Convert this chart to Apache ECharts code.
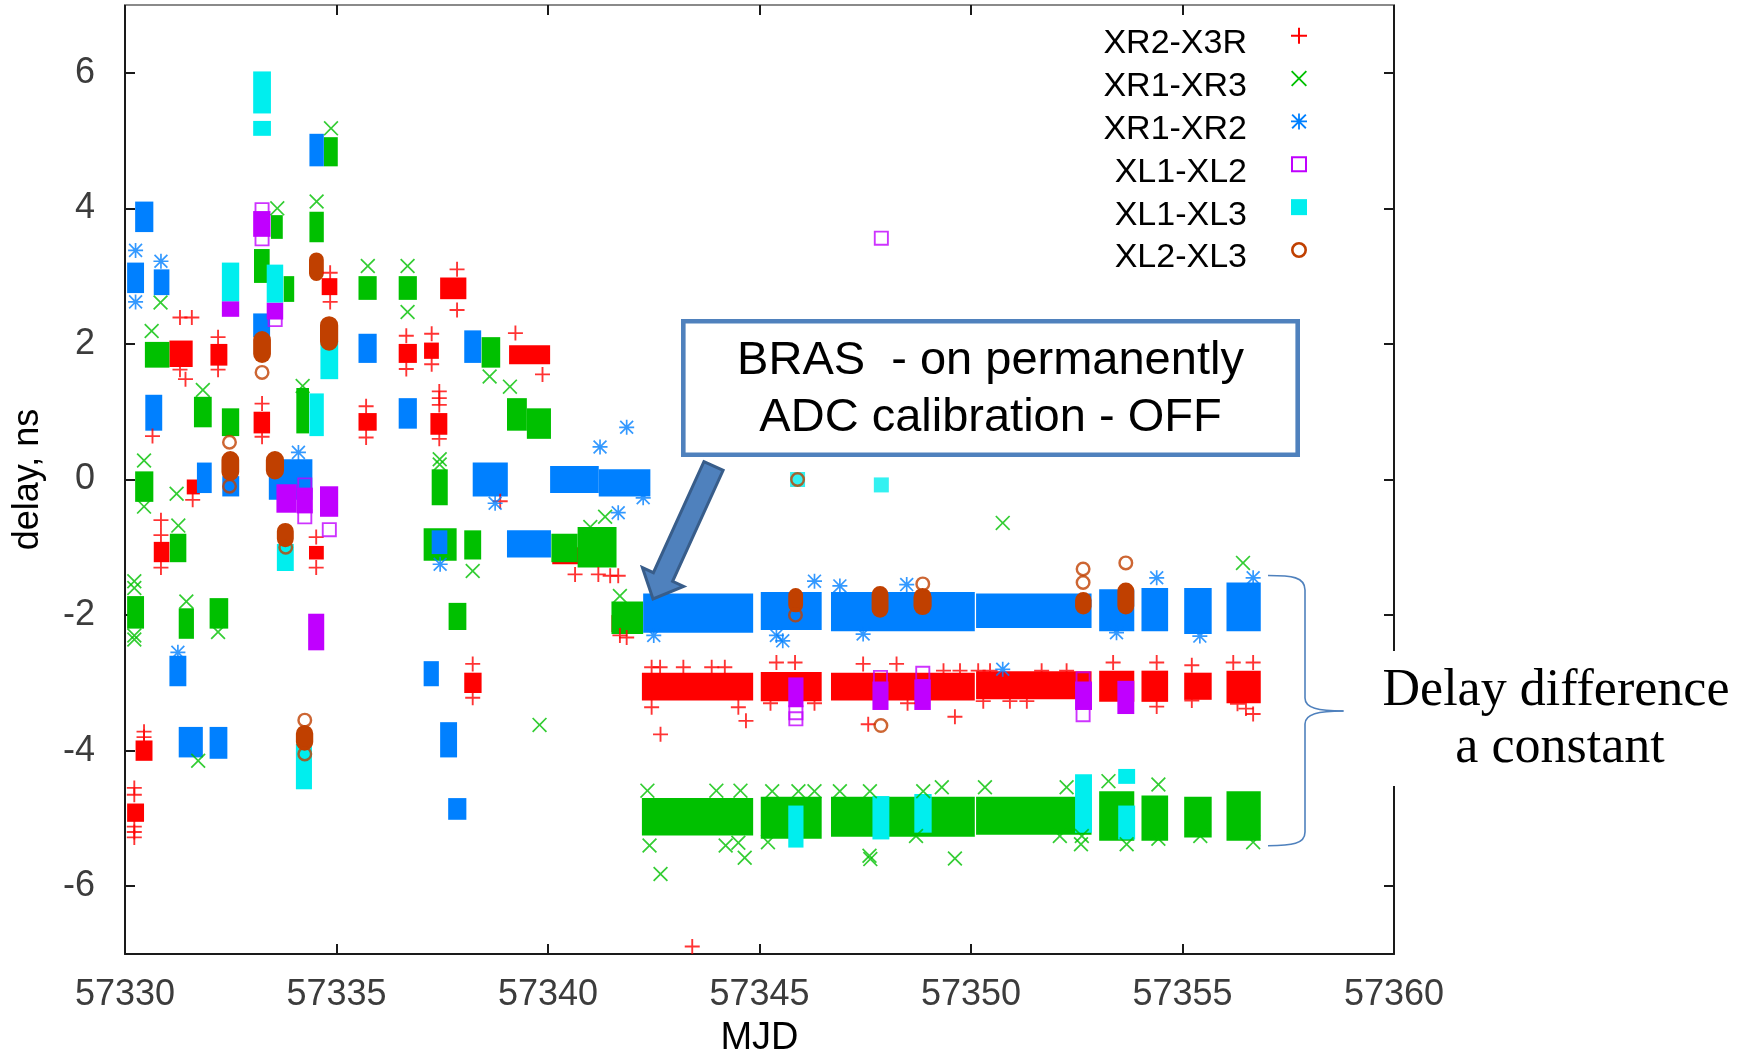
<!DOCTYPE html>
<html><head><meta charset="utf-8">
<script src="https://cdn.jsdelivr.net/npm/echarts@6/dist/echarts.min.js"></script>
<style>html,body{margin:0;padding:0;background:#fff}#c{width:1742px;height:1056px}</style>
</head><body><div id="c"></div>
<script>
// ---------------- DATA ----------------
const seriesNames = ['XR2-X3R', 'XR1-XR3', 'XR1-XR2', 'XL1-XL2', 'XL1-XL3', 'XL2-XL3'];
const yTickValues = [-6, -4, -2, 0, 2, 4, 6];
const xRange = [57330, 57360];
const yRange = [-7, 7];

// dense clusters of overlapping markers: [mjdStart, mjdEnd, delayLow, delayHigh]
const redBlocks = [
  [57330.05, 57330.45, -5.05, -4.78], [57330.25, 57330.65, -4.15, -3.85], [57330.68, 57331.05, -1.22, -0.92],
  [57331.05, 57331.6, 1.66, 2.05], [57331.46, 57331.77, -0.22, 0.0], [57332.02, 57332.42, 1.68, 2.0],
  [57333.04, 57333.43, 0.68, 1.0], [57334.35, 57334.7, -1.18, -0.98], [57334.65, 57335.02, 2.72, 2.97],
  [57335.52, 57335.95, 0.72, 0.98], [57336.47, 57336.9, 1.72, 2.0], [57337.07, 57337.42, 1.78, 2.02],
  [57337.22, 57337.62, 0.66, 0.98], [57337.45, 57338.07, 2.66, 2.98], [57338.02, 57338.43, -3.15, -2.85],
  [57339.08, 57340.05, 1.7, 1.98], [57340.1, 57341.6, -1.25, -1.0], [57341.5, 57342.1, -2.25, -2.0],
  [57342.22, 57344.85, -3.26, -2.85], [57345.03, 57346.47, -3.27, -2.84], [57346.69, 57350.09, -3.26, -2.85],
  [57350.12, 57352.85, -3.24, -2.83], [57353.03, 57353.86, -3.28, -2.82], [57354.03, 57354.66, -3.28, -2.82],
  [57355.04, 57355.69, -3.25, -2.85], [57356.04, 57356.85, -3.3, -2.82]
];
const redPoints = [
  [57330.22, -4.55], [57330.22, -4.65], [57330.22, -5.12], [57330.22, -5.2], [57330.22, -5.28],
  [57330.45, -3.72], [57330.45, -3.8], [57330.45, -3.92], [57330.85, -0.6], [57330.85, -0.82], [57330.85, -1.3],
  [57330.65, 0.64], [57331.3, 2.39], [57331.58, 2.39], [57331.43, 1.48], [57331.3, 1.62], [57331.6, -0.3],
  [57332.2, 2.1], [57332.2, 1.62], [57333.24, 1.12], [57333.24, 0.63], [57334.52, -0.85], [57334.52, -1.3],
  [57334.85, 3.05], [57334.85, 2.62], [57335.7, 1.08], [57335.7, 0.62], [57336.65, 2.12], [57336.65, 1.63],
  [57337.25, 2.15], [57337.25, 1.7], [57337.43, 1.3], [57337.43, 1.2], [57337.43, 1.1], [57337.43, 0.6],
  [57337.85, 3.1], [57337.85, 2.5], [57338.22, -2.72], [57338.22, -3.22], [57338.87, -0.32],
  [57339.23, 2.16], [57339.87, 1.55], [57340.64, -1.4], [57341.19, -1.4], [57341.47, -1.42], [57341.66, -1.42],
  [57341.86, -2.33], [57341.7, -2.3], [57342.45, -2.77], [57342.65, -2.77], [57343.2, -2.77], [57343.87, -2.77],
  [57344.18, -2.77], [57342.45, -3.36], [57344.5, -3.36], [57342.66, -3.76], [57343.41, -6.89], [57344.68, -3.56],
  [57345.4, -2.7], [57345.84, -2.7], [57345.26, -3.3], [57346.3, -3.3], [57347.45, -2.72], [57348.24, -2.72],
  [57348.5, -3.3], [57347.57, -3.61], [57349.35, -2.82], [57349.74, -2.82], [57350.17, -2.82], [57350.45, -2.82],
  [57351.67, -2.82], [57352.26, -2.82], [57350.29, -3.27], [57350.92, -3.27], [57351.32, -3.27], [57349.62, -3.5],
  [57353.36, -2.7], [57354.39, -2.7], [57354.39, -3.35], [57355.22, -2.74], [57355.22, -3.26],
  [57356.2, -2.7], [57356.67, -2.7], [57356.3, -3.31], [57356.67, -3.46], [57356.5, -3.38]
];

const greenBlocks = [
  [57330.05, 57330.45, -2.2, -1.72], [57330.24, 57330.67, -0.33, 0.12], [57330.47, 57331.05, 1.65, 2.03],
  [57331.06, 57331.45, -1.22, -0.8], [57331.27, 57331.63, -2.35, -1.9], [57331.63, 57332.05, 0.77, 1.22],
  [57332.0, 57332.44, -2.2, -1.75], [57332.29, 57332.7, 0.64, 1.05], [57333.05, 57333.42, 2.9, 3.4],
  [57333.45, 57333.73, 3.55, 3.9], [57333.75, 57334.0, 2.62, 3.0], [57334.05, 57334.35, 0.68, 1.35],
  [57334.36, 57334.7, 3.5, 3.95], [57334.7, 57335.03, 4.62, 5.05], [57335.52, 57335.95, 2.65, 3.0],
  [57336.47, 57336.9, 2.65, 3.0], [57337.06, 57337.84, -1.2, -0.72], [57337.25, 57337.63, -0.38, 0.15],
  [57337.65, 57338.07, -2.22, -1.82], [57338.02, 57338.42, -1.18, -0.75], [57338.43, 57338.87, 1.65, 2.1],
  [57339.03, 57339.5, 0.72, 1.2], [57339.5, 57340.07, 0.6, 1.05], [57340.08, 57340.7, -1.22, -0.8],
  [57340.7, 57341.62, -1.3, -0.7], [57341.5, 57342.25, -2.28, -1.8],
  [57342.22, 57344.85, -5.25, -4.7], [57345.03, 57346.47, -5.3, -4.68], [57346.69, 57350.09, -5.27, -4.68],
  [57350.12, 57352.85, -5.24, -4.68], [57353.03, 57353.86, -5.33, -4.6], [57354.03, 57354.66, -5.33, -4.66],
  [57355.04, 57355.69, -5.28, -4.68], [57356.04, 57356.85, -5.33, -4.6]
];
const greenPoints = [
  [57330.22, -1.5], [57330.22, -1.6], [57330.22, -2.3], [57330.22, -2.36], [57330.45, 0.28], [57330.45, -0.4],
  [57330.63, 2.19], [57330.84, 2.61], [57331.22, -0.21], [57331.26, -0.68], [57331.45, -1.8], [57331.73, -4.15],
  [57331.84, 1.32], [57332.2, -2.25], [57333.6, 4.0], [57334.2, 1.38], [57334.53, 4.1], [57334.87, 5.18],
  [57335.74, 3.15], [57336.68, 3.15], [57336.68, 2.47], [57337.44, 0.3], [57337.44, 0.22], [57338.22, -1.35],
  [57338.62, 1.52], [57339.1, 1.37], [57339.8, -3.62], [57341.0, -0.7], [57341.35, -0.55], [57341.7, -1.72],
  [57342.66, -5.82], [57344.5, -5.36], [57344.65, -5.58], [57347.6, -5.55], [57347.62, -5.6], [57349.62, -5.59],
  [57350.75, -0.64], [57356.43, -1.23],
  [57342.35, -4.59], [57343.98, -4.59], [57344.55, -4.59], [57342.4, -5.4], [57344.2, -5.4],
  [57345.3, -4.6], [57345.92, -4.6], [57346.3, -4.6], [57345.2, -5.35], [57346.9, -4.6], [57347.61, -4.6],
  [57348.87, -4.6], [57349.31, -4.54], [57350.33, -4.54], [57352.26, -4.54], [57348.7, -5.26], [57352.1, -5.26],
  [57352.62, -5.26], [57352.6, -5.38], [57353.25, -4.45], [57353.68, -5.38], [57354.43, -4.5], [57354.43, -5.3],
  [57355.42, -5.26], [57356.67, -5.35]
];

const blueBlocks = [
  [57330.05, 57330.45, 2.75, 3.2], [57330.24, 57330.67, 3.65, 4.1], [57330.48, 57330.88, 0.72, 1.25],
  [57330.68, 57331.05, 2.72, 3.1], [57331.05, 57331.45, -3.05, -2.6], [57331.27, 57331.84, -4.1, -3.65],
  [57331.7, 57332.05, -0.2, 0.25], [57332.0, 57332.42, -4.12, -3.65], [57332.3, 57332.7, -0.25, 0.05],
  [57333.03, 57333.43, 2.1, 2.45], [57333.4, 57334.43, -0.3, 0.3], [57334.36, 57334.7, 4.62, 5.1],
  [57335.52, 57335.95, 1.72, 2.15], [57336.47, 57336.9, 0.75, 1.2], [57337.06, 57337.42, -3.05, -2.68],
  [57337.25, 57337.62, -1.1, -0.75], [57337.45, 57337.85, -4.1, -3.58], [57337.64, 57338.07, -5.02, -4.7],
  [57338.02, 57338.42, 1.72, 2.2], [57338.22, 57339.05, -0.25, 0.25], [57339.03, 57340.07, -1.15, -0.75],
  [57340.05, 57341.2, -0.2, 0.2], [57341.2, 57342.42, -0.25, 0.15],
  [57342.25, 57344.85, -2.26, -1.68], [57345.03, 57346.47, -2.22, -1.66], [57346.69, 57350.09, -2.24, -1.66],
  [57350.12, 57352.85, -2.19, -1.68], [57353.03, 57353.86, -2.24, -1.62], [57354.03, 57354.66, -2.24, -1.6],
  [57355.04, 57355.69, -2.28, -1.6], [57356.04, 57356.85, -2.24, -1.52]
];
const bluePoints = [
  [57330.25, 3.38], [57330.25, 2.62], [57330.85, 3.22], [57331.25, -2.55], [57334.1, 0.4], [57337.45, -1.25],
  [57338.75, -0.35], [57341.23, 0.48], [57341.86, 0.77], [57341.66, -0.49], [57342.25, -0.27], [57342.5, -2.3],
  [57345.4, -2.3], [57345.55, -2.38], [57346.3, -1.5], [57346.9, -1.57], [57348.48, -1.55], [57347.45, -2.28],
  [57353.44, -2.26], [57354.39, -1.45], [57355.41, -2.31], [57356.67, -1.45], [57350.75, -2.8]
];

const purpleBlocks = [
  [57333.03, 57333.44, 3.58, 3.96], [57332.29, 57332.7, 2.4, 2.63], [57333.35, 57333.74, 2.36, 2.61],
  [57333.58, 57334.06, -0.49, -0.07], [57334.06, 57334.44, -0.5, -0.12], [57334.61, 57335.04, -0.55, -0.1],
  [57334.33, 57334.71, -2.52, -1.98], [57345.68, 57346.04, -3.36, -2.92], [57347.67, 57348.05, -3.4, -2.98],
  [57348.66, 57349.05, -3.4, -2.95], [57352.46, 57352.86, -3.4, -2.98], [57353.46, 57353.86, -3.46, -2.97]
];
const purplePoints = [
  [57347.88, 3.56], [57334.83, -0.74], [57333.24, 3.98], [57333.24, 3.55], [57333.55, 2.36], [57334.25, -0.55],
  [57334.25, -0.08], [57345.86, -3.44], [57345.86, -3.53], [57347.86, -2.92], [57348.86, -2.86],
  [57352.65, -2.94], [57352.65, -3.47]
];

const cyanBlocks = [
  [57333.03, 57333.45, 5.4, 6.02], [57333.03, 57333.45, 5.07, 5.29], [57332.29, 57332.7, 2.63, 3.2],
  [57333.35, 57333.74, 2.61, 3.17], [57334.36, 57334.7, 0.64, 1.27], [57334.62, 57335.04, 1.48, 2.04],
  [57333.59, 57333.99, -1.35, -0.95], [57334.04, 57334.42, -4.57, -3.9], [57345.68, 57346.04, -5.43, -4.81],
  [57347.67, 57348.07, -5.31, -4.67], [57348.66, 57349.07, -5.21, -4.64], [57352.46, 57352.86, -5.21, -4.35],
  [57353.48, 57353.88, -4.49, -4.27], [57353.48, 57353.88, -5.31, -4.81]
];
const cyanPoints = [[57345.9, 0.0], [57347.88, -0.08]];

const brownBlocks = [
  [57333.03, 57333.45, 1.72, 2.19], [57334.35, 57334.7, 2.93, 3.35], [57334.61, 57335.04, 1.9, 2.41],
  [57332.28, 57332.7, -0.02, 0.42], [57333.33, 57333.76, 0.0, 0.42], [57333.59, 57333.99, -1.0, -0.64],
  [57334.04, 57334.45, -4.0, -3.62], [57345.68, 57346.03, -1.96, -1.6], [57347.65, 57348.05, -2.04, -1.57],
  [57348.64, 57349.07, -2.0, -1.6], [57352.46, 57352.85, -1.99, -1.66], [57353.46, 57353.86, -1.99, -1.52]
];
const brownPoints = [
  [57333.24, 1.58], [57332.47, 0.55], [57332.47, -0.1], [57333.8, -1.0], [57334.25, -3.55], [57334.25, -4.05],
  [57345.9, 0.0], [57347.87, -3.63], [57345.85, -2.0], [57348.86, -1.54], [57352.65, -1.32], [57352.65, -1.52],
  [57353.66, -1.23]
];

// ---------------- STYLE ----------------
const colors = ['#ff0000', '#00c000', '#0080ff', '#c000ff', '#00eeee', '#c04000'];
const SYM = {
  plus: 'path://M7,0H9V7H16V9H9V16H7V9H0V7H7Z',
  cross: 'path://M0,1.3L1.3,0L8,6.7L14.7,0L16,1.3L9.3,8L16,14.7L14.7,16L8,9.3L1.3,16L0,14.7L6.7,8Z',
  star: 'path://M7.1,0H8.9V7.1H16V8.9H8.9V16H7.1V8.9H0V7.1H7.1Z M0.5,1.8L1.8,0.5L8,6.7L14.2,0.5L15.5,1.8L9.3,8L15.5,14.2L14.2,15.5L8,9.3L1.8,15.5L0.5,14.2L6.7,8Z',
  openSq: 'path://M0,0H16V16H0Z M2,2V14H14V2Z',
  fillSq: 'path://M0,0H16V16H0Z',
  ring: 'path://M8,0A8,8 0 1,1 8,16A8,8 0 1,1 8,0Z M8,2.6A5.4,5.4 0 1,0 8,13.4A5.4,5.4 0 1,0 8,2.6Z'
};
const symbols = [SYM.plus, SYM.cross, SYM.star, SYM.openSq, SYM.fillSq, SYM.ring];
const blockSets = [redBlocks, greenBlocks, blueBlocks, purpleBlocks, cyanBlocks, brownBlocks];
const pointSets = [redPoints, greenPoints, bluePoints, purplePoints, cyanPoints, brownPoints];
const FONT = "'Liberation Sans', Arial, sans-serif";
const SERIF = "'Liberation Serif', 'Times New Roman', serif";

function blockRenderer(color, rounded) {
  return function (params, api) {
    const p0 = api.coord([api.value(0), api.value(3)]);
    const p1 = api.coord([api.value(1), api.value(2)]);
    const w = p1[0] - p0[0], h = p1[1] - p0[1];
    return {
      type: 'rect',
      shape: { x: p0[0], y: p0[1], width: w, height: h, r: rounded ? Math.min(w, h) / 2 : 0 },
      style: { fill: color }
    };
  };
}

const series = [];
for (let i = 0; i < 6; i++) {
  series.push({
    type: 'custom', name: seriesNames[i], data: blockSets[i],
    renderItem: blockRenderer(colors[i], i === 5),
    itemStyle: { color: colors[i] }, silent: true,
    encode: { x: [0, 1], y: [2, 3] }
  });
  series.push({
    type: 'scatter', name: seriesNames[i], data: pointSets[i],
    symbol: symbols[i], symbolSize: 15, itemStyle: { color: colors[i] }, silent: true
  });
}

const axisLineBlack = { show: true, onZero: false, lineStyle: { color: '#1a1a1a', width: 2 } };
const tickStyle = { show: true, inside: true, length: 10, lineStyle: { color: '#1a1a1a', width: 2 } };
const braceStyle = { fill: 'none', stroke: '#4f81bd', lineWidth: 1.6 };

const option = {
  animation: false,
  backgroundColor: '#ffffff',
  grid: { left: 125, right: 348, top: 5, bottom: 102, containLabel: false, outerBoundsMode: 'none' },
  xAxis: [
    {
      type: 'value', min: xRange[0], max: xRange[1], interval: 5, position: 'bottom',
      axisLine: axisLineBlack, axisTick: tickStyle,
      axisLabel: { show: true, fontSize: 36, color: '#3c3c3c', fontFamily: FONT, margin: 23, formatter: v => String(v) },
      splitLine: { show: false },
      name: 'MJD', nameLocation: 'middle', nameGap: 66,
      nameTextStyle: { fontSize: 38, color: '#000', fontFamily: FONT }
    },
    {
      type: 'value', min: xRange[0], max: xRange[1], interval: 5, position: 'top',
      axisLine: { show: true, onZero: false, lineStyle: { color: '#8a8a8a', width: 2 } },
      axisTick: tickStyle,
      axisLabel: { show: false }, splitLine: { show: false }
    }
  ],
  yAxis: [
    {
      type: 'value', min: yRange[0], max: yRange[1], position: 'left',
      axisLine: axisLineBlack,
      axisTick: Object.assign({ customValues: yTickValues }, tickStyle),
      axisLabel: { show: true, customValues: yTickValues, fontSize: 36, color: '#3c3c3c', fontFamily: FONT, margin: 30 },
      splitLine: { show: false },
      name: 'delay, ns', nameLocation: 'middle', nameGap: 79, nameRotate: 90,
      nameTextStyle: { fontSize: 36, color: '#000', fontFamily: FONT }
    },
    {
      type: 'value', min: yRange[0], max: yRange[1], position: 'right',
      axisLine: axisLineBlack,
      axisTick: Object.assign({ customValues: yTickValues }, tickStyle),
      axisLabel: { show: false }, splitLine: { show: false }
    }
  ],
  legend: {
    orient: 'vertical', align: 'right', right: 435, top: 10.7, padding: 0,
    itemWidth: 94, itemHeight: 16, itemGap: -7.14, selectedMode: false,
    itemStyle: { borderWidth: 0 },
    formatter: '{t|{name}}',
    textStyle: {
      fontSize: 34, color: '#000', fontFamily: FONT,
      rich: { t: { fontSize: 34, color: '#000', fontFamily: FONT, lineHeight: 34, padding: [16, 0, 0, 0] } }
    },
    data: seriesNames.map((n, i) => ({ name: n, icon: symbols[i] }))
  },
  series: series,
  graphic: [
    { type: 'rect', z: 100, shape: { x: 1345, y: 651, width: 397, height: 135 }, style: { fill: '#ffffff' } },
    { type: 'text', z: 101, style: { x: 1556, y: 691.5, text: 'Delay difference', fontSize: 52, fontFamily: SERIF, fill: '#000', align: 'center', verticalAlign: 'middle' } },
    { type: 'text', z: 101, style: { x: 1560, y: 748.5, text: 'a constant', fontSize: 52, fontFamily: SERIF, fill: '#000', align: 'center', verticalAlign: 'middle' } },
    { type: 'bezierCurve', z: 101, shape: { x1: 1268, y1: 575.5, cpx1: 1292, cpy1: 575.5, cpx2: 1305, cpy2: 577, x2: 1305, y2: 590 }, style: braceStyle },
    { type: 'line', z: 101, shape: { x1: 1305, y1: 590, x2: 1305, y2: 698 }, style: braceStyle },
    { type: 'bezierCurve', z: 101, shape: { x1: 1305, y1: 698, cpx1: 1305, cpy1: 708, cpx2: 1318, cpy2: 711, x2: 1343.5, y2: 711 }, style: braceStyle },
    { type: 'bezierCurve', z: 101, shape: { x1: 1343.5, y1: 711, cpx1: 1318, cpy1: 711, cpx2: 1305, cpy2: 714, x2: 1305, y2: 724 }, style: braceStyle },
    { type: 'line', z: 101, shape: { x1: 1305, y1: 724, x2: 1305, y2: 832 }, style: braceStyle },
    { type: 'bezierCurve', z: 101, shape: { x1: 1305, y1: 832, cpx1: 1305, cpy1: 844, cpx2: 1292, cpy2: 845.7, x2: 1268, y2: 845.7 }, style: braceStyle },
    { type: 'rect', z: 100, shape: { x: 683.3, y: 321.3, width: 614.4, height: 133.4 }, style: { fill: '#ffffff', stroke: '#4f81bd', lineWidth: 4.6 } },
    { type: 'text', z: 101, style: { x: 990.5, y: 360.7, text: 'BRAS  - on permanently', fontSize: 47, fontFamily: FONT, fill: '#000', align: 'center', verticalAlign: 'middle' } },
    { type: 'text', z: 101, style: { x: 990.5, y: 417.9, text: 'ADC calibration - OFF', fontSize: 47, fontFamily: FONT, fill: '#000', align: 'center', verticalAlign: 'middle' } },
    { type: 'polygon', z: 101, shape: { points: [[703.9, 461.7], [723.1, 470.3], [672.6, 581.3], [683.6, 586.4], [653, 599], [642.4, 567.6], [653.4, 572.7]] }, style: { fill: '#4f81bd', stroke: '#385d8a', lineWidth: 3 } }
  ]
};

const chart = echarts.init(document.getElementById('c'), null, { renderer: 'canvas' });
chart.setOption(option);
</script>
</body></html>
